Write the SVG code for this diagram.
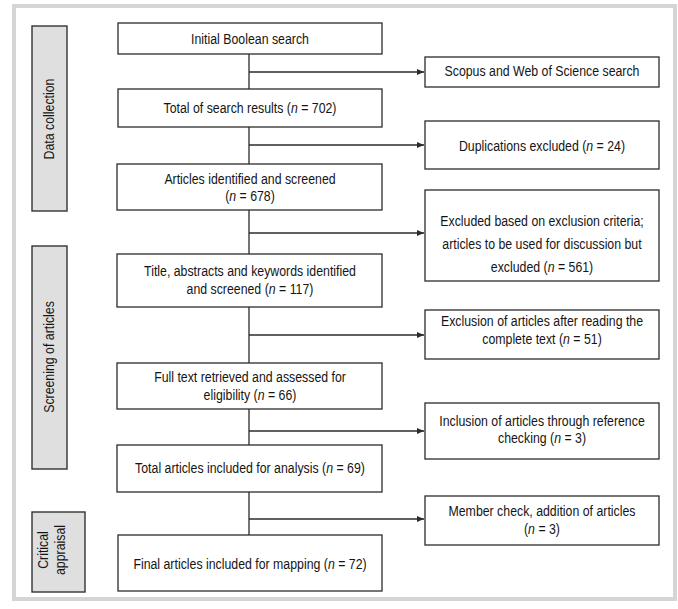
<svg xmlns="http://www.w3.org/2000/svg" width="678" height="609" viewBox="0 0 678 609">
<style>
.frame{fill:none;stroke:#d5d5d5;stroke-width:4}
.box{fill:#fff;stroke:#2b2b2b;stroke-width:1.3}
.side{fill:#dfdfdf;stroke:#333;stroke-width:1.4}
.ln{fill:none;stroke:#2b2b2b;stroke-width:1.3}
text{font-family:"Liberation Sans",Arial,sans-serif;font-size:15.5px;fill:#151515;text-anchor:middle}
.t{transform-box:fill-box;transform-origin:center;transform:scaleX(.795)}
.i{font-style:italic}
</style>
<defs>
<marker id="ah" markerUnits="userSpaceOnUse" markerWidth="8" markerHeight="7" refX="7" refY="3" orient="auto">
<path d="M0,0 L7,3 L0,6 z" fill="#2b2b2b"/>
</marker>
</defs>
<rect width="678" height="609" fill="#fff"/>
<rect class="frame" x="14" y="6" width="661" height="593"/>

<g id="connectors">
<path class="ln" d="M249,54 V89 M249,127 V164 M249,210 V254 M249,307 V363 M249,409 V445 M249,492 V535"/>
<path class="ln" marker-end="url(#ah)" d="M249,72 H424"/>
<path class="ln" marker-end="url(#ah)" d="M249,145 H424"/>
<path class="ln" marker-end="url(#ah)" d="M249,233 H424"/>
<path class="ln" marker-end="url(#ah)" d="M249,335 H424"/>
<path class="ln" marker-end="url(#ah)" d="M249,431 H424"/>
<path class="ln" marker-end="url(#ah)" d="M249,519 H424"/>
</g>

<g id="phase-data-collection">
<rect class="side" x="32" y="26" width="35" height="185"/>
<g transform="translate(54,119) rotate(-90)"><text class="t" x="0" y="0">Data collection</text></g>
</g>
<g id="phase-screening">
<rect class="side" x="32" y="246" width="35" height="223"/>
<g transform="translate(54,357) rotate(-90)"><text class="t" x="0" y="0">Screening of articles</text></g>
</g>
<g id="phase-critical">
<rect class="side" x="32" y="512" width="53" height="80"/>
<g transform="translate(47.5,550) rotate(-90)"><text class="t" x="0" y="0">Critical<tspan x="0" dy="17.5">appraisal</tspan></text></g>
</g>

<g id="initial">
<rect class="box" x="118" y="23" width="264" height="31"/>
<text class="t" x="250" y="44.5">Initial Boolean search</text>
</g>
<g id="total-results">
<rect class="box" x="118" y="89" width="264" height="38"/>
<text class="t" x="250" y="113.5">Total of search results (<tspan class="i">n</tspan> = 702)</text>
</g>
<g id="identified">
<rect class="box" x="117" y="164" width="265" height="46"/>
<text class="t" x="250" y="184">Articles identified and screened<tspan x="250" dy="17.5">(</tspan><tspan class="i">n</tspan> = 678)</text>
</g>
<g id="title-abstracts">
<rect class="box" x="117" y="254" width="265" height="53"/>
<text class="t" x="250" y="276.5">Title, abstracts and keywords identified<tspan x="250" dy="17.5">and screened (</tspan><tspan class="i">n</tspan> = 117)</text>
</g>
<g id="full-text">
<rect class="box" x="117" y="363" width="265" height="46"/>
<text class="t" x="250" y="382.5">Full text retrieved and assessed for<tspan x="250" dy="17.5">eligibility (</tspan><tspan class="i">n</tspan> = 66)</text>
</g>
<g id="total-analysis">
<rect class="box" x="117" y="445" width="265" height="47"/>
<text class="t" x="250" y="473">Total articles included for analysis (<tspan class="i">n</tspan> = 69)</text>
</g>
<g id="final">
<rect class="box" x="118" y="535" width="264" height="56"/>
<text class="t" x="250" y="569">Final articles included for mapping (<tspan class="i">n</tspan> = 72)</text>
</g>

<g id="scopus">
<rect class="box" x="425" y="57" width="234" height="30"/>
<text class="t" x="542" y="76.5">Scopus and Web of Science search</text>
</g>
<g id="duplications">
<rect class="box" x="425" y="121" width="234" height="48"/>
<text class="t" x="542" y="151">Duplications excluded (<tspan class="i">n</tspan> = 24)</text>
</g>
<g id="excluded-criteria">
<rect class="box" x="425" y="190" width="234" height="91"/>
<text class="t" x="542" y="226.5">Excluded based on exclusion criteria;<tspan x="542" dy="23">articles to be used for discussion but</tspan><tspan x="542" dy="22.5">excluded (</tspan><tspan class="i">n</tspan> = 561)</text>
</g>
<g id="exclusion-reading">
<rect class="box" x="425" y="310" width="234" height="49"/>
<text class="t" x="542" y="326.5">Exclusion of articles after reading the<tspan x="542" dy="17.5">complete text (</tspan><tspan class="i">n</tspan> = 51)</text>
</g>
<g id="inclusion-reference">
<rect class="box" x="425" y="403" width="234" height="56"/>
<text class="t" x="542" y="426">Inclusion of articles through reference<tspan x="542" dy="17.5">checking (</tspan><tspan class="i">n</tspan> = 3)</text>
</g>
<g id="member-check">
<rect class="box" x="425" y="496" width="234" height="49"/>
<text class="t" x="542" y="516.5">Member check, addition of articles<tspan x="542" dy="17.5">(</tspan><tspan class="i">n</tspan> = 3)</text>
</g>
</svg>
